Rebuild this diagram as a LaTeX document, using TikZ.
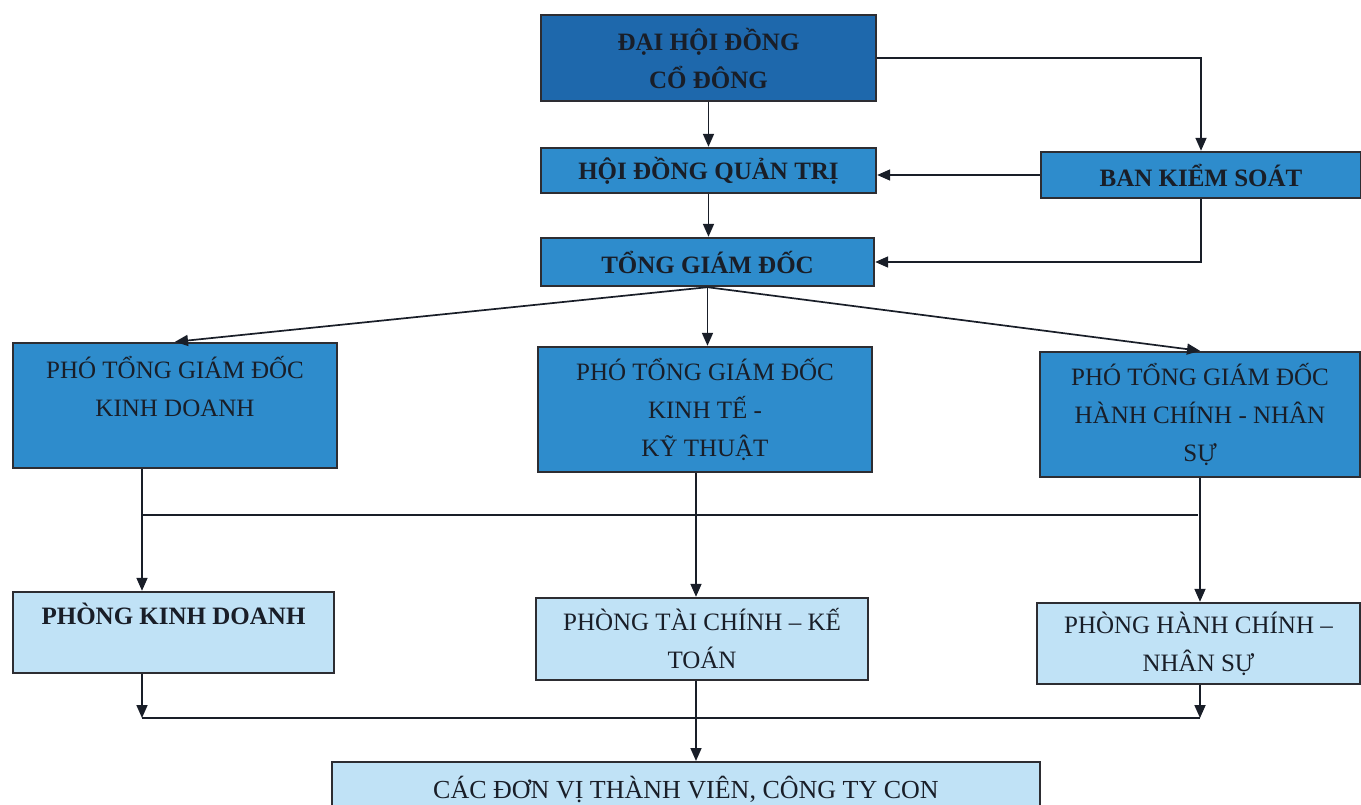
\documentclass[tikz,border=0pt]{standalone}
\usepackage{fontspec}
\setmainfont{Liberation Serif}
\usetikzlibrary{arrows.meta}
\definecolor{topblue}{RGB}{30,104,172}
\definecolor{midblue}{RGB}{46,140,204}
\definecolor{lightblue}{RGB}{192,226,246}
\definecolor{edge}{RGB}{45,45,50}
\definecolor{ink}{RGB}{25,30,40}
\tikzset{
  box/.style={draw=edge, line width=2.4pt, rectangle, inner sep=0pt, align=center,
    text=ink, font=\fontsize{25}{38}\selectfont},
  topbox/.style={box, fill=topblue, font=\fontsize{25}{38}\selectfont\bfseries},
  midbox/.style={box, fill=midblue},
  lowbox/.style={box, fill=lightblue},
  conn/.style={draw=ink, line width=1.7pt},
  arr/.style={conn, -{Triangle[length=13pt,width=11pt]}}
}
\begin{document}
\begin{tikzpicture}[x=1pt,y=-1pt]
\useasboundingbox (0,0) rectangle (1361,805);
\clip (0,0) rectangle (1361,805);
\fill[white] (0,0) rectangle (1361,805);
% nodes
\node[topbox, minimum width=335pt, minimum height=86pt] (dh) at (708.5,58) {ĐẠI HỘI ĐỒNG\\CỔ ĐÔNG};
\node[topbox, fill=midblue, minimum width=335pt, minimum height=45pt] (hd) at (708.5,170.5) {HỘI ĐỒNG QUẢN TRỊ};
\node[topbox, fill=midblue, minimum width=320pt, minimum height=46pt] (bk) at (1201,175) {BAN KIỂM SOÁT};
\node[topbox, fill=midblue, minimum width=333pt, minimum height=48pt] (tg) at (707.5,262) {TỔNG GIÁM ĐỐC};
\node[midbox, minimum width=324pt, minimum height=125pt] (p1) at (175,405.5) {PHÓ TỔNG GIÁM ĐỐC\\KINH DOANH\\~};
\node[midbox, minimum width=334pt, minimum height=125pt] (p2) at (705,409.5) {PHÓ TỔNG GIÁM ĐỐC\\KINH TẾ -\\KỸ THUẬT};
\node[midbox, minimum width=320pt, minimum height=125pt] (p3) at (1200,414.5) {PHÓ TỔNG GIÁM ĐỐC\\HÀNH CHÍNH - NHÂN\\SỰ};
\node[lowbox, minimum width=321pt, minimum height=81pt, font=\fontsize{25}{38}\selectfont\bfseries] (k1) at (173.5,632.5) {PHÒNG KINH DOANH\\~};
\node[lowbox, minimum width=332pt, minimum height=82pt] (k2) at (702,639) {PHÒNG TÀI CHÍNH – KẾ\\TOÁN};
\node[lowbox, minimum width=323pt, minimum height=81pt] (k3) at (1198.5,643.5) {PHÒNG HÀNH CHÍNH –\\NHÂN SỰ};
\node[lowbox, minimum width=708pt, minimum height=54pt, anchor=north, font=\fontsize{26}{38}\selectfont] (dv) at (686,761) {CÁC ĐƠN VỊ THÀNH VIÊN, CÔNG TY CON};
% bus coordinates
\coordinate (b1) at (142,515);
\coordinate (b2) at (1198,515);
\coordinate (c1) at (142,718);
\coordinate (c2) at (1200,718);
\coordinate (m2) at (696,0);
% connectors
\draw[arr] (dh.south) -- (hd.north);
\draw[arr] (dh.east) -| (bk.north);
\draw[arr] (bk.west) -- (bk.west -| hd.east);
\draw[arr] (bk.south) |- (tg.east);
\draw[arr] (hd.south) -- (hd.south |- tg.north);
\draw[arr] (tg.south) -- (p1.north);
\draw[arr] (tg.south) -- (tg.south |- p2.north);
\draw[arr] (tg.south) -- (p3.north);
\draw[conn] (b1 |- p1.south) -- (b1);
\draw[conn] (b1) -- (b2);
\draw[arr] (b1) -- (b1 |- k1.north);
\draw[arr] (p3.south) -- (p3.south |- k3.north);
\draw[arr] (m2 |- p2.south) -- (m2 |- k2.north);
\draw[arr] (c1 |- k1.south) -- (c1);
\draw[arr] (c2 |- k3.south) -- (c2);
\draw[conn] (c1) -- (c2);
\draw[arr] (m2 |- k2.south) -- (m2 |- dv.north);
\end{tikzpicture}
\end{document}
